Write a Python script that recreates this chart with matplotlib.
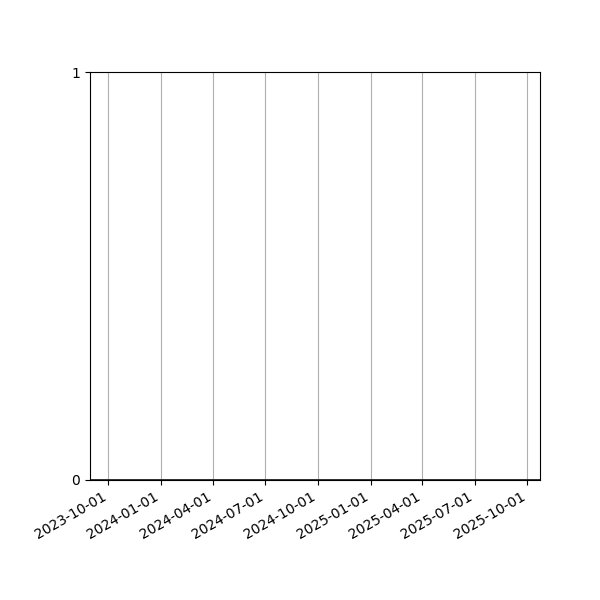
import matplotlib
matplotlib.use("Agg")
import matplotlib.pyplot as plt
import matplotlib.dates as mdates
import pandas as pd

# daily series, every value is zero over the whole range
start_date = "2023-08-30"
end_date = "2025-10-23"
dates = pd.date_range(start_date, end_date, freq="D")
values = [0] * len(dates)

y_ticks = [0, 1]

fig, ax = plt.subplots(figsize=(6, 6), dpi=100)
ax.plot(dates, values, color="blue", linewidth=2)

ax.set_xlim(dates[0], dates[-1])
ax.set_ylim(0, 1)
ax.set_yticks(y_ticks)

ax.xaxis.set_major_locator(mdates.MonthLocator(bymonth=[1, 4, 7, 10]))
ax.xaxis.set_major_formatter(mdates.DateFormatter("%Y-%m-%d"))
ax.grid(axis="x", color="#b0b0b0", linewidth=0.8)

fig.autofmt_xdate()
fig.subplots_adjust(left=0.15, right=0.9, top=0.88, bottom=0.2)
fig.savefig("out.png")
